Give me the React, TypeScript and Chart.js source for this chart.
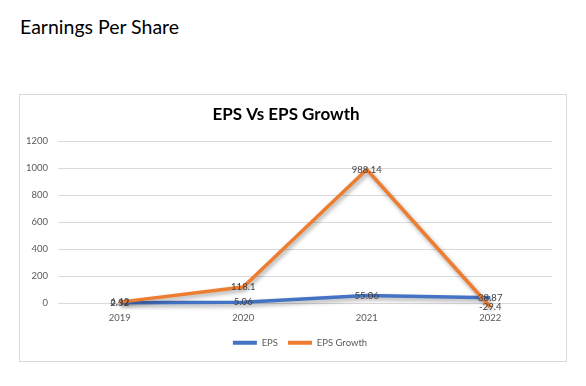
import React, { useEffect, useRef } from "react";
import { Chart, registerables } from "chart.js";

Chart.register(...registerables);

const categories = ["2019", "2020", "2021", "2022"];
const epsValues = [2.32, 5.06, 55.06, 38.87];
const epsGrowthValues = [6.42, 118.1, 988.14, -29.4];
const yTicks = [0, 200, 400, 600, 800, 1000, 1200];

const FONT = "Lato, 'Open Sans', sans-serif";
const BLUE = "#4472C4";
const ORANGE = "#ED7D31";

export default function App() {
  const canvasRef = useRef<HTMLCanvasElement | null>(null);

  useEffect(() => {
    const canvas = canvasRef.current;
    if (!canvas) return;

    const shadowPlugin = {
      id: "lineShadow",
      beforeDatasetDraw(chart: any) {
        const ctx = chart.ctx;
        ctx.save();
        ctx.shadowColor = "rgba(0,0,0,0.35)";
        ctx.shadowBlur = 4;
        ctx.shadowOffsetX = 1.5;
        ctx.shadowOffsetY = 2.5;
      },
      afterDatasetDraw(chart: any) {
        chart.ctx.restore();
      },
    };

    const labelPlugin = {
      id: "pointLabels",
      afterDatasetsDraw(chart: any) {
        const ctx = chart.ctx;
        ctx.save();
        ctx.font = `9.5px ${FONT}`;
        ctx.fillStyle = "#404040";
        ctx.textAlign = "center";
        ctx.textBaseline = "middle";
        chart.data.datasets.forEach((ds: any, di: number) => {
          const meta = chart.getDatasetMeta(di);
          meta.data.forEach((pt: any, i: number) => {
            ctx.fillText(String(ds.data[i]), pt.x, pt.y);
          });
        });
        ctx.restore();
      },
    };

    const legendShift = {
      id: "legendShift",
      afterLayout(chart: any) {
        if (chart.legend) {
          chart.legend.left += 14;
          chart.legend.right += 14;
        }
      },
    };

    const chart = new Chart(canvas, {
      type: "line",
      data: {
        labels: categories,
        datasets: [
          {
            label: "EPS",
            data: epsValues,
            borderColor: BLUE,
            backgroundColor: BLUE,
            borderWidth: 3.5,
            pointRadius: 0,
            tension: 0,
            order: 1,
            clip: false as any,
          },
          {
            label: "EPS Growth",
            data: epsGrowthValues,
            borderColor: ORANGE,
            backgroundColor: ORANGE,
            borderWidth: 3.5,
            pointRadius: 0,
            tension: 0,
            order: 0,
            clip: false as any,
          },
        ],
      },
      options: {
        responsive: false,
        animation: false,
        devicePixelRatio: 1,
        layout: { padding: { left: 0, right: 14, top: 0, bottom: 3.5 } },
        plugins: {
          title: {
            display: true,
            text: "EPS Vs EPS Growth",
            color: "#000000",
            font: { family: FONT, size: 17, weight: "bold" },
            padding: { top: 9.8, bottom: 15.8 },
          },
          legend: {
            display: true,
            position: "bottom",
            labels: {
              boxWidth: 24,
              boxHeight: 4,
              padding: 10,
              color: "#595959",
              font: { family: FONT, size: 9.5 },
              sort: (a: any, b: any) => a.datasetIndex - b.datasetIndex,
              generateLabels: (ch: any) => {
                const items = Chart.defaults.plugins.legend.labels.generateLabels(ch);
                return items.map((it: any) => ({
                  ...it,
                  lineWidth: 0,
                  strokeStyle: "rgba(0,0,0,0)",
                }));
              },
            },
          },
          tooltip: { enabled: false },
        },
        scales: {
          x: {
            offset: true,
            grid: { display: false, drawTicks: false, offset: true },
            border: { display: false },
            ticks: {
              padding: 9,
              color: "#595959",
              font: { family: FONT, size: 9.5 },
            },
            afterFit: (scale: any) => {
              scale.height = 25;
            },
          },
          y: {
            min: 0,
            max: 1200,
            grid: { color: "#d9d9d9", lineWidth: 1, drawTicks: false },
            border: { display: false },
            afterBuildTicks: (scale: any) => {
              scale.ticks = yTicks.map((v) => ({ value: v }));
            },
            ticks: {
              padding: 10,
              color: "#595959",
              font: { family: FONT, size: 9.5 },
              callback: (v: any) => String(v),
            },
            afterFit: (scale: any) => {
              scale.width = 38;
            },
          },
        },
      },
      plugins: [shadowPlugin, labelPlugin, legendShift],
    });

    return () => chart.destroy();
  }, []);

  return (
    <div
      style={{
        position: "fixed",
        left: 0,
        top: 0,
        width: 586,
        height: 386,
        background: "#ffffff",
        overflow: "hidden",
      }}
    >
      <div
        style={{
          position: "absolute",
          left: 20,
          top: 17,
          fontFamily: FONT,
          fontSize: 19.5,
          lineHeight: "19.5px",
          color: "#000000",
          whiteSpace: "nowrap",
        }}
      >
        Earnings Per Share
      </div>
      <div
        style={{
          position: "absolute",
          left: 19,
          top: 94,
          width: 548,
          height: 268,
          border: "1px solid #d9d9d9",
          boxSizing: "border-box",
        }}
      >
        <canvas
          ref={canvasRef}
          width={546}
          height={266}
          style={{ display: "block", width: 546, height: 266 }}
        />
      </div>
    </div>
  );
}
